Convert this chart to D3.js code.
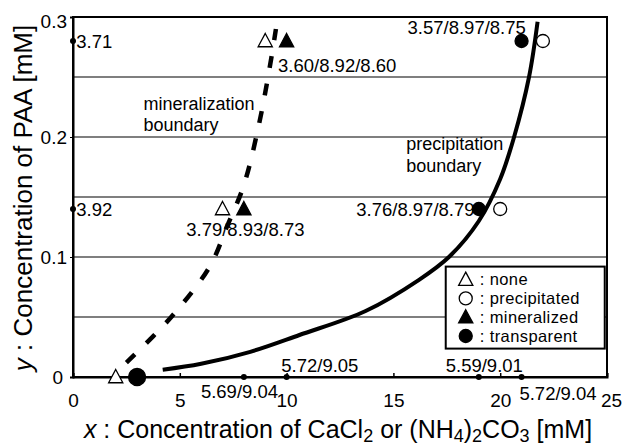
<!DOCTYPE html>
<html>
<head>
<meta charset="utf-8">
<script src="https://cdn.jsdelivr.net/npm/d3@7"></script>
<style>
  body { margin: 0; background: #fff; }
  svg text { font-family: "Liberation Sans", Arial, sans-serif; fill: #000; }
</style>
</head>
<body>
<div id="chart"></div>
<script>
var width = 622;
var height = 448;

// data
var xTicks = [0, 5, 10, 15, 20, 25];
var yTicks = [0, 0.1, 0.2, 0.3];
var gridLines = [0.05, 0.1, 0.15, 0.2, 0.25];

// [x, y, state]  state: none / precipitated / mineralized / transparent
var samples = [
  [2, 0, "none"], [3, 0, "transparent"],
  [7, 0.14, "none"], [8, 0.14, "mineralized"],
  [9, 0.28, "none"], [10, 0.28, "mineralized"],
  [19, 0.14, "transparent"], [20, 0.14, "precipitated"],
  [21, 0.28, "transparent"], [22, 0.28, "precipitated"]
];

var mineralBoundary = [[2.5, 0.012], [4.6, 0.05], [6.4, 0.092], [7.2, 0.125], [8.0, 0.16],
  [8.7, 0.21], [9.2, 0.257], [9.5, 0.29]];
var precipBoundary = [[4.2, 0.006], [6, 0.011], [8.3, 0.021], [10.6, 0.035], [13.7, 0.055],
  [16.2, 0.081], [17.6, 0.1], [19.0, 0.13], [20.0, 0.165], [20.65, 0.2], [21.35, 0.25], [21.75, 0.296]];

// pH values on the axes: [x, y, text]
var axisDots = [
  [0, 0.28, "3.71"], [0, 0.14, "3.92"],
  [8, 0, "5.69/9.04"], [10, 0, "5.72/9.05"],
  [19, 0, "5.59/9.01"], [21, 0, "5.72/9.04"]
];
// pH values of the marker pairs
var pointLabels = ["3.60/8.92/8.60", "3.79/8.93/8.73", "3.76/8.97/8.79", "3.57/8.97/8.75"];

var legendItems = ["none", "precipitated", "mineralized", "transparent"];

// label placement: [x, y, anchor] in data units
var axisLabelPos = [[0.15, 0.28, "start"], [0.15, 0.14, "start"], [9.6, -0.012, "end"],
  [9.75, 0.01, "start"], [17.45, 0.01, "start"], [20.9, -0.013, "start"]];
var pointLabelPos = [[9.6, 0.26, "start"], [5.3, 0.123, "start"], [18.8, 0.14, "end"], [21.2, 0.292, "end"]];

var margin = { top: 17, right: 15, bottom: 71, left: 73 };
var plotW = width - margin.left - margin.right;
var plotH = height - margin.top - margin.bottom;

var svg = d3.select("#chart").append("svg")
  .attr("width", width)
  .attr("height", height);

var g = svg.append("g").attr("transform", "translate(" + margin.left + "," + margin.top + ")");

var xScale = d3.scaleLinear().domain([0, 25]).range([0, plotW]);
var yScale = d3.scaleLinear().domain([0, 0.3]).range([plotH, 0]);

// grid lines
g.selectAll(".grid").data(gridLines).enter().append("line")
  .attr("x1", 0).attr("x2", plotW)
  .attr("y1", function(d) { return yScale(d); })
  .attr("y2", function(d) { return yScale(d); })
  .attr("stroke", "#000").attr("stroke-width", 1.2);

// frame
g.append("rect").attr("width", plotW).attr("height", plotH)
  .attr("fill", "none").attr("stroke", "#000").attr("stroke-width", 2);

// x axis with inner ticks
var xAxis = d3.axisBottom(xScale).tickValues(xTicks).tickSize(-4).tickPadding(17).tickFormat(d3.format("d"));
var xg = g.append("g").attr("transform", "translate(0," + plotH + ")").call(xAxis);
xg.select(".domain").attr("stroke-width", 2);
xg.selectAll("text").attr("font-size", 19).style("font-family", "Liberation Sans, Arial, sans-serif")
  .attr("dx", function(d) { return d === 25 ? 4 : 0; });
xg.selectAll(".tick line").attr("stroke-width", 1.5);

var yAxis = d3.axisLeft(yScale).tickValues(yTicks).tickSize(3).tickPadding(3)
  .tickFormat(function(d) { return d === 0 ? "0" : d3.format(".1f")(d); });
var yg = g.append("g").call(yAxis);
yg.select(".domain").attr("stroke-width", 2);
yg.selectAll("text").attr("font-size", 19).style("font-family", "Liberation Sans, Arial, sans-serif")
  .attr("dx", function(d) { return d === 0 ? -4 : 0; })
  .attr("dy", function(d) { return d === 0.3 ? "0.55em" : "0.32em"; });

// boundaries
var line = d3.line()
  .x(function(d) { return xScale(d[0]); })
  .y(function(d) { return yScale(d[1]); })
  .curve(d3.curveCatmullRom);

g.append("path").datum(mineralBoundary).attr("d", line)
  .attr("fill", "none").attr("stroke", "#000").attr("stroke-width", 4.5)
  .attr("stroke-dasharray", "12,16");

g.append("path").datum(precipBoundary).attr("d", line)
  .attr("fill", "none").attr("stroke", "#000").attr("stroke-width", 4);

// markers
function drawMarker(sel, state, r) {
  if (state === "none" || state === "mineralized") {
    var s = r * 2.1;
    sel.append("path")
      .attr("d", "M0," + (-s * 0.55) + "L" + (s * 0.52) + "," + (s * 0.42) + "L" + (-s * 0.52) + "," + (s * 0.42) + "Z")
      .attr("fill", state === "none" ? "#fff" : "#000")
      .attr("stroke", "#000").attr("stroke-width", 1.3);
  } else {
    sel.append("circle").attr("r", r)
      .attr("fill", state === "precipitated" ? "#fff" : "#000")
      .attr("stroke", "#000").attr("stroke-width", 1.3);
  }
}

// small dots on the axes
g.selectAll(".adot").data(axisDots).enter().append("circle")
  .attr("cx", function(d) { return xScale(d[0]); })
  .attr("cy", function(d) { return yScale(d[1]); })
  .attr("r", 3).attr("fill", "#000");

g.selectAll(".alab").data(axisDots).enter().append("text")
  .attr("x", function(d, i) { return xScale(axisLabelPos[i][0]); })
  .attr("y", function(d, i) { return yScale(axisLabelPos[i][1]) + 7; })
  .attr("text-anchor", function(d, i) { return axisLabelPos[i][2]; })
  .attr("font-size", 18.5)
  .text(function(d) { return d[2]; });

samples.forEach(function(s) {
  var m = g.append("g").attr("transform", "translate(" + xScale(s[0]) + "," + yScale(s[1]) + ")");
  drawMarker(m, s[2], (s[1] === 0 && s[2] === "transparent") ? 8.5 : 6.5);
});

g.selectAll(".plab").data(pointLabels).enter().append("text")
  .attr("x", function(d, i) { return xScale(pointLabelPos[i][0]); })
  .attr("y", function(d, i) { return yScale(pointLabelPos[i][1]) + 7; })
  .attr("text-anchor", function(d, i) { return pointLabelPos[i][2]; })
  .attr("font-size", 18.5)
  .text(function(d) { return d; });

// boundary names
g.append("text").attr("x", xScale(3.3)).attr("y", yScale(0.25) + 33).attr("font-size", 18)
  .selectAll("tspan").data(["mineralization", "boundary"]).enter().append("tspan")
  .attr("x", xScale(3.3)).attr("dy", function(d, i) { return i ? 21 : 0; })
  .text(function(d) { return d; });

g.append("text").attr("x", xScale(15.6)).attr("y", yScale(0.2) + 13).attr("font-size", 18)
  .selectAll("tspan").data(["precipitation", "boundary"]).enter().append("tspan")
  .attr("x", xScale(15.6)).attr("dy", function(d, i) { return i ? 22 : 0; })
  .text(function(d) { return d; });

// legend
var lg = g.append("g").attr("transform", "translate(" + (xScale(17.45)) + "," + (yScale(0.092)) + ")");
lg.append("rect").attr("width", 159).attr("height", 82)
  .attr("fill", "#fff").attr("stroke", "#000").attr("stroke-width", 2);
legendItems.forEach(function(name, i) {
  var row = lg.append("g").attr("transform", "translate(20," + (13 + i * 18.8) + ")");
  drawMarker(row, name, 6.5);
  row.append("text").attr("x", 14).attr("y", 5.5).attr("font-size", 16.5)
    .attr("letter-spacing", 0.4).text(": " + name);
});

// axis titles
var xt = svg.append("text").attr("x", 338).attr("y", 438).attr("text-anchor", "middle").attr("font-size", 25);
xt.append("tspan").attr("font-style", "italic").text("x");
xt.append("tspan").text(" : Concentration of CaCl");
xt.append("tspan").attr("dy", 4).attr("font-size", 18).text("2");
xt.append("tspan").attr("dy", -4).text(" or (NH");
xt.append("tspan").attr("dy", 4).attr("font-size", 18).text("4");
xt.append("tspan").attr("dy", -4).text(")");
xt.append("tspan").attr("dy", 4).attr("font-size", 18).text("2");
xt.append("tspan").attr("dy", -4).text("CO");
xt.append("tspan").attr("dy", 4).attr("font-size", 18).text("3");
xt.append("tspan").attr("dy", -4).text(" [mM]");

var yt = svg.append("text").attr("transform", "translate(32,198) rotate(-90)")
  .attr("text-anchor", "middle").attr("font-size", 26);
yt.append("tspan").attr("font-style", "italic").text("y");
yt.append("tspan").text(" : Concentration of PAA [mM]");
</script>
</body>
</html>
